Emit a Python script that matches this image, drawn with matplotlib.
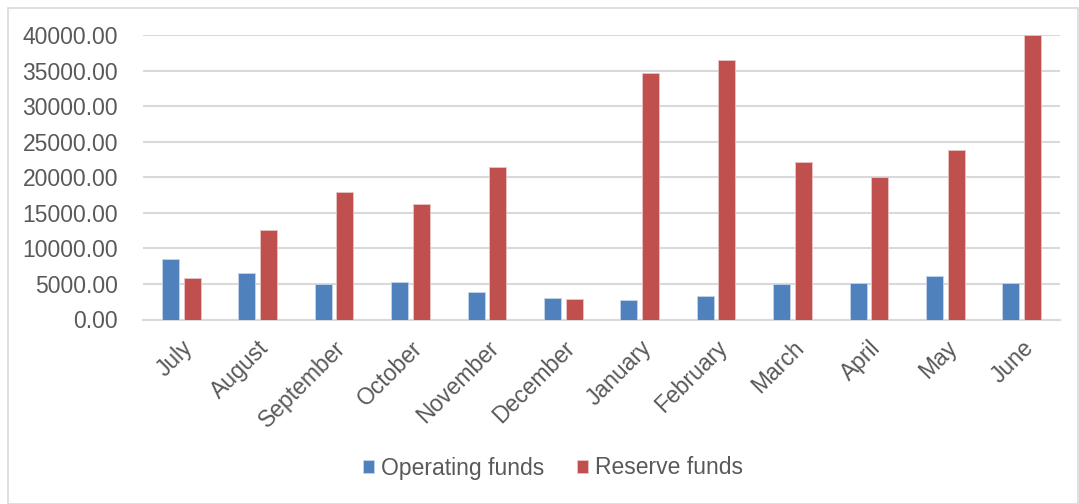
import matplotlib
matplotlib.use("Agg")
import matplotlib.pyplot as plt
import numpy as np
from matplotlib.patches import Rectangle

months = ["July", "August", "September", "October", "November", "December",
          "January", "February", "March", "April", "May", "June"]
operating = [8500, 6500, 5000, 5300, 3800, 3050, 2800, 3300, 5000, 5200, 6100, 5100]
reserve = [5800, 12600, 17900, 16200, 21400, 2850, 34700, 36500, 22200, 20000, 23900, 40000]
yticks = [0, 5000, 10000, 15000, 20000, 25000, 30000, 35000, 40000]

plt.rcParams['font.family'] = ['Liberation Sans', 'DejaVu Sans']
W, H = 1079, 504
fig = plt.figure(figsize=(W / 100, H / 100), dpi=100)
fig.patches.append(Rectangle((8 / W, 0), (W - 9) / W, (H - 7.5) / H, transform=fig.transFigure,
                             fill=False, edgecolor='#d9d9d9', linewidth=1.2))

ax = fig.add_axes([143 / W, (H - 319.5) / H, (1060 - 143) / W, (319.5 - 35) / H])
x = np.arange(len(months))
bw = 0.223
off = 0.142
ax.bar(x - off, operating, bw, color='#4F81BD', edgecolor='#c6d4ea', linewidth=0.6,
       label='Operating funds', zorder=3)
ax.bar(x + off, reserve, bw, color='#C0504D', edgecolor='#e8c4c3', linewidth=0.6,
       label='Reserve funds', zorder=3)

ax.set_xlim(-0.5, len(months) - 0.5)
ax.set_ylim(0, 40000)
ax.set_yticks(yticks)
ax.set_yticklabels([f"{v:.2f}" for v in yticks])
ax.yaxis.grid(True, color='#d9d9d9', linewidth=1.5, zorder=0)
ax.set_axisbelow(True)
for s in ['top', 'right', 'left']:
    ax.spines[s].set_visible(False)
ax.spines['bottom'].set_color('#d9d9d9')
ax.spines['bottom'].set_linewidth(1.5)
ax.tick_params(axis='both', length=0, labelsize=16.5, labelcolor='#595959')
ax.tick_params(axis='y', pad=18)
ax.set_xticks(x)
ax.set_xticklabels(months, rotation=45, ha='right', rotation_mode='anchor')
ax.tick_params(axis='x', pad=12)

leg = fig.legend(loc='center', bbox_to_anchor=(553 / W, (H - 468) / H), ncol=2, frameon=False,
                 fontsize=16.5, handlelength=0.5, handleheight=0.5, handletextpad=0.3,
                 columnspacing=1.4)
for t in leg.get_texts():
    t.set_color('#595959')

fig.savefig('out.png', dpi=100)
